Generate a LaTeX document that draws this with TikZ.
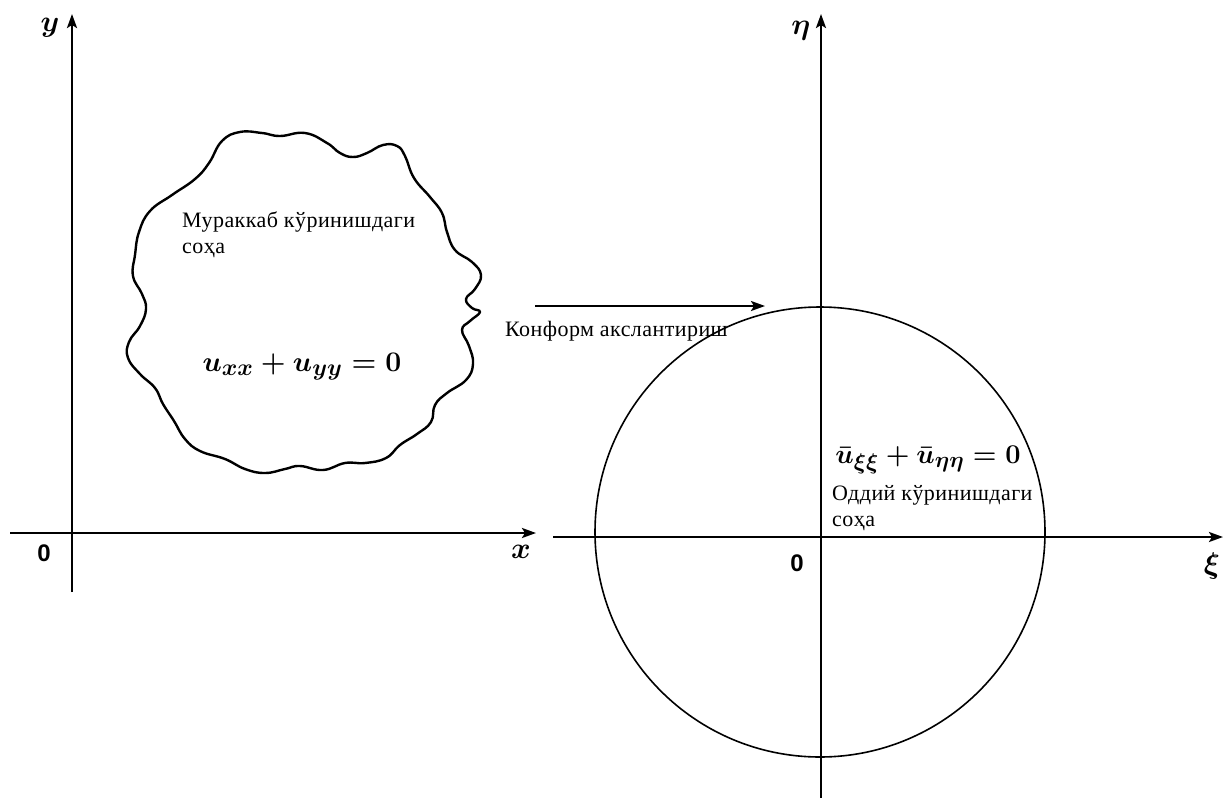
\documentclass[tikz,border=0pt]{standalone}
\usepackage{fontspec}
\setmainfont{Liberation Serif}
\newfontfamily\cyrserif{Liberation Serif}[LetterSpace=2]
\newfontfamily\zerofont{Liberation Sans}
\usetikzlibrary{arrows.meta}
\newcommand\myeqbox[2]{\scalebox{#1}{$#2$}}
\begin{document}
\begin{tikzpicture}[x=1pt,y=-1pt,
  axis/.style={line width=2.4pt,-{Stealth[length=14pt,width=10pt,inset=3pt]}},
  maparrow/.style={line width=2.2pt,-{Stealth[length=14pt,width=10pt,inset=3pt]}},
  lbl/.style={font=\cyrserif\fontsize{22}{26}\selectfont, inner sep=0pt, anchor=base west},
  eqn/.style={font=\Huge\boldmath, inner sep=0pt, anchor=base},
  axlbl/.style={font=\Huge\boldmath, inner sep=0pt},
  zero/.style={font=\zerofont\fontsize{24}{26}\selectfont\bfseries, inner sep=0pt},
  blob/.style={line width=2.4pt, line join=round},
  region/.style={line width=1.6pt},
]
\useasboundingbox (0,0) rectangle (1224,798);
% left axes
\coordinate (yB) at (72,592);
\coordinate (yT) at (72,14);
\coordinate (xL) at (10,533);
\coordinate (xR) at (536,533);
\draw[axis] (yB) -- (yT);
\draw[axis] (xL) -- (xR);
\node[axlbl] (ylab) at (50,28) {\myeqbox{1.2}{y}};
\node[axlbl] (xlab) at (521,552) {\myeqbox{1.2}{x}};
\node[zero] (o1) at (44,553) {0};
% right axes
\coordinate (eB) at (821,798);
\coordinate (eT) at (821,14);
\coordinate (sL) at (553,537);
\coordinate (sR) at (1223,537);
\draw[axis] (eB) -- (eT);
\draw[axis] (sL) -- (sR);
\node[axlbl] (elab) at (801,31) {\myeqbox{1.2}{\eta}};
\node[axlbl] (slab) at (1212,566) {\myeqbox{1.2}{\xi}};
\node[zero] (o2) at (797,563) {0};
% circle region
\coordinate (cc) at (820,532);
\draw[region] (cc) circle[radius=225];
% wavy region
\draw[blob] plot[smooth cycle, tension=0.75] coordinates {
(222,141) (240,132) (262,133) (280,136) (305,133)
(327,143) (340,153) (353,157) (367,153) (383,145) (397,146) (405,156)
(414,178) (430,197) (442,213) (447,232) (455,250) (472,262) (481,275)
(475,289) (466,299) (472,308) (480,312) (470,321) (462,330) (469,346)
(473,364) (466,380) (447,393) (435,405) (431,422) (417,434) (400,445)
(386,458) (365,463) (345,463) (323,470) (300,466) (285,469) (265,473)
(245,469) (225,459) (200,451) (185,439) (174,421) (163,404) (155,388)
(140,374) (128,358) (129,342) (140,326) (146,309) (142,294)
(133,276) (135,255) (139,232) (150,211) (172,195) (195,179)
(209,163)};
% texts
\node[lbl] (t1a) at (182,227) {Мураккаб кўринишдаги};
\node[lbl] (t1b) at (182,253) {соҳа};
\node[eqn] (eq1) at (302,371) {\myeqbox{1.14}{u_{xx}+u_{yy}=0}};
\node[eqn] (eq2) at (928,463) {\myeqbox{1.09}{\bar u_{\xi\xi}+\bar u_{\eta\eta}=0}};
\node[lbl] (t2a) at (832,500) {Оддий кўринишдаги};
\node[lbl] (t2b) at (832,526) {соҳа};
% mapping arrow
\coordinate (aL) at (535,306);
\coordinate (aR) at (765,306);
\draw[maparrow] (aL) -- (aR);
\node[lbl] (mlab) at (505,336) {Конформ акслантириш};
\end{tikzpicture}
\end{document}
